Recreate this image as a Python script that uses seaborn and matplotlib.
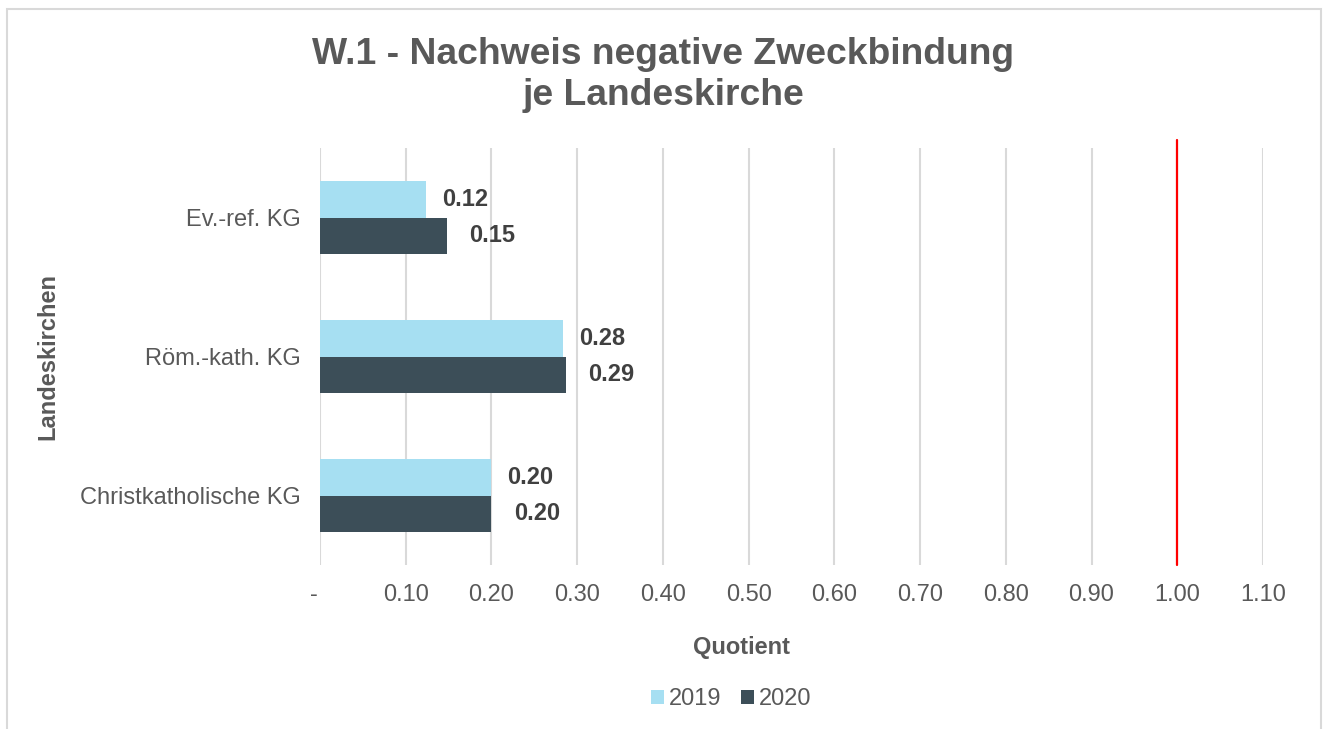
import matplotlib
matplotlib.use("Agg")
import matplotlib.pyplot as plt
import matplotlib.patches as mpatches
import seaborn as sns
import pandas as pd

# ── Data ──────────────────────────────────────────────────────────────────────
categories  = ["Ev.-ref. KG", "Röm.-kath. KG", "Christkatholische KG"]
years       = ["2019", "2020"]
values_2019 = [0.124, 0.284, 0.200]
values_2020 = [0.148, 0.287, 0.200]
xticks      = [0.0, 0.1, 0.2, 0.3, 0.4, 0.5, 0.6, 0.7, 0.8, 0.9, 1.0, 1.1]
xtick_labels = ["-  "] + [f"{t:.2f}" for t in xticks[1:]]
threshold   = 1.0

df = pd.DataFrame({
    "Landeskirche": categories * 2,
    "Jahr": [years[0]] * len(categories) + [years[1]] * len(categories),
    "Quotient": values_2019 + values_2020,
})

# ── Style ─────────────────────────────────────────────────────────────────────
sns.set_style("white")
plt.rcParams["font.family"] = ["Liberation Sans", "DejaVu Sans"]
TEXT  = "#595959"
LABEL = "#404040"
GRID  = "#D9D9D9"
palette = {"2019": "#A6DFF2", "2020": "#3C4E58"}

fig = plt.figure(figsize=(13.26, 7.29), dpi=100)
fig.patch.set_facecolor("white")
ax = fig.add_axes([320 / 1326, 1 - 565 / 729, 943 / 1326, 417 / 729])

sns.barplot(data=df, y="Landeskirche", x="Quotient", hue="Jahr",
            hue_order=years, order=categories, palette=palette,
            orient="h", width=0.52, linewidth=0, saturation=1, ax=ax,
            legend=True)

# Value labels
for cont, pad in zip(ax.containers, [11.5, 16]):
    ax.bar_label(cont, labels=[f"{b.get_width():.2f}" for b in cont],
                 padding=pad, fontsize=17, fontweight="bold", color=LABEL)

ax.set_xlim(0, 1.1)
ax.set_ylim(2.5, -0.5)
ax.set_xticks(xticks)
ax.set_xticklabels(xtick_labels)
ax.tick_params(axis="x", length=0, pad=14, labelsize=17, labelcolor=TEXT)
ax.tick_params(axis="y", length=0, pad=14, labelsize=17, labelcolor=TEXT)
ax.grid(axis="x", color=GRID, linewidth=1.5)
ax.set_axisbelow(True)
for s in ax.spines.values():
    s.set_visible(False)

# Red threshold line (sticks out slightly above the plot area)
ax.axvline(threshold, ymin=0, ymax=1.019, color="#FF0000", linewidth=1.6,
           clip_on=False, zorder=5)

ax.set_xlabel("Quotient", fontsize=17, fontweight="bold", color=TEXT)
ax.set_ylabel("Landeskirchen", fontsize=17, fontweight="bold", color=TEXT)
ax.xaxis.set_label_coords((741 - 320) / 943, -0.17)
ax.yaxis.set_label_coords(-0.276, 0.5)

# Legend
handles, labels = ax.get_legend_handles_labels()
ax.legend_.remove()
fig.legend(handles, labels, loc="center", bbox_to_anchor=(731 / 1326, 1 - 699 / 729),
           ncol=2, frameon=False, fontsize=17, labelcolor=TEXT,
           handlelength=0.55, handleheight=0.55, handletextpad=0.2,
           columnspacing=0.85)

fig.text(0.5, 1 - 75 / 729, "W.1 - Nachweis negative Zweckbindung\nje Landeskirche",
         ha="center", va="center", fontsize=26.8, fontweight="bold",
         color=TEXT, linespacing=1.25)

# Chart frame
fig.patches.append(mpatches.Rectangle(
    (7 / 1326, -0.1), (1321 - 7) / 1326, 1.1 - 8.5 / 729,
    transform=fig.transFigure, fill=False, edgecolor=GRID, linewidth=1.5))

plt.savefig("out.png", dpi=100)
plt.close()
